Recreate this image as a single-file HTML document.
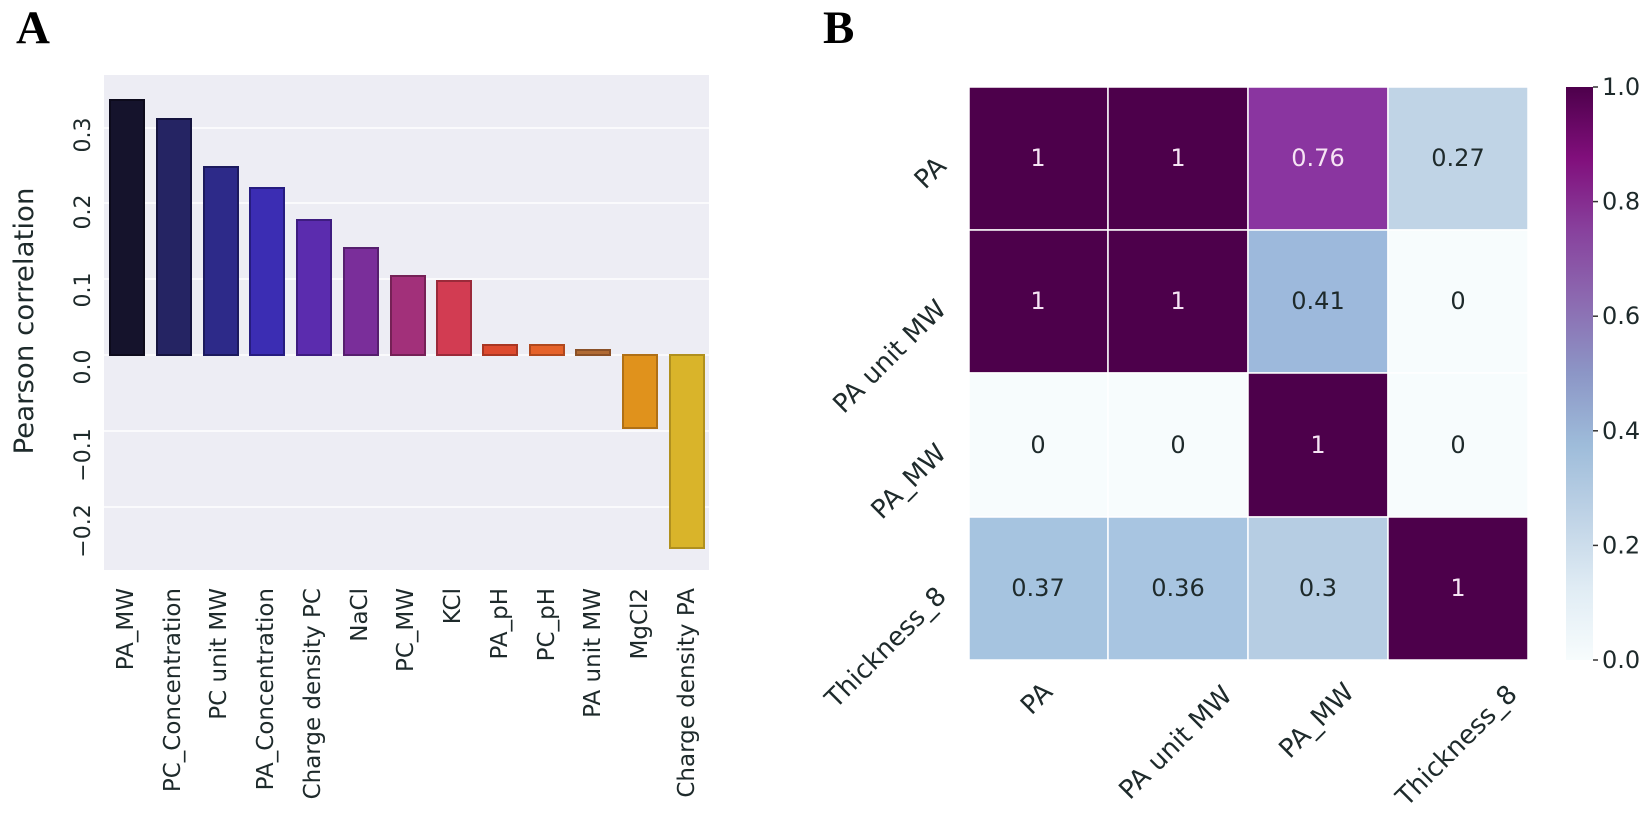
<!DOCTYPE html>
<html>
<head>
<meta charset="utf-8">
<style>
  html,body{margin:0;padding:0;background:#ffffff;}
  svg{display:block;}
  text{font-family:"DejaVu Sans","Liberation Sans",sans-serif;fill:#1e2a2b;}
  .lab{font-family:"Liberation Serif",serif;font-weight:bold;fill:#000;}
</style>
</head>
<body>
<svg width="1652" height="823" viewBox="0 0 1652 823" xmlns="http://www.w3.org/2000/svg">
  <defs>
    <linearGradient id="bupu" x1="0" y1="1" x2="0" y2="0">
      <stop offset="0" stop-color="#f7fcfd"/>
      <stop offset="0.125" stop-color="#e0ecf4"/>
      <stop offset="0.25" stop-color="#bfd3e6"/>
      <stop offset="0.375" stop-color="#9ebcda"/>
      <stop offset="0.5" stop-color="#8c96c6"/>
      <stop offset="0.625" stop-color="#8c6bb1"/>
      <stop offset="0.75" stop-color="#88419d"/>
      <stop offset="0.875" stop-color="#810f7c"/>
      <stop offset="1" stop-color="#4d004b"/>
    </linearGradient>
  </defs>

  <!-- Panel labels -->
  <text class="lab" x="16" y="43" font-size="47">A</text>
  <text class="lab" x="823" y="43" font-size="47">B</text>

  <!-- ============ Panel A: bar chart ============ -->
  <rect x="104" y="75" width="605" height="495" fill="#ededf4"/>
  <g stroke="#ffffff" stroke-width="1.6">
    <line x1="104" y1="128" x2="709" y2="128"/>
    <line x1="104" y1="203" x2="709" y2="203"/>
    <line x1="104" y1="279" x2="709" y2="279"/>
    <line x1="104" y1="355" x2="709" y2="355"/>
    <line x1="104" y1="431" x2="709" y2="431"/>
    <line x1="104" y1="507" x2="709" y2="507"/>
  </g>

  <g stroke-width="2">
    <rect x="110" y="100" width="34" height="255" fill="#15132c" stroke="#0d0b1c"/>
    <rect x="157" y="119" width="34" height="236" fill="#252463" stroke="#15143f"/>
    <rect x="204" y="167" width="34" height="188" fill="#2d2a89" stroke="#1c1a5e"/>
    <rect x="250" y="188" width="34" height="167" fill="#3b2db3" stroke="#261c80"/>
    <rect x="297" y="220" width="34" height="135" fill="#5b2cae" stroke="#3e1c80"/>
    <rect x="344" y="248" width="34" height="107" fill="#7a2e9a" stroke="#561f6e"/>
    <rect x="391" y="276" width="34" height="79" fill="#a2307a" stroke="#752156"/>
    <rect x="437" y="281" width="34" height="74" fill="#d23c52" stroke="#9a2a3a"/>
    <rect x="483" y="345" width="34" height="10" fill="#dd4a2e" stroke="#a93622"/>
    <rect x="530" y="345" width="34" height="10" fill="#e5622a" stroke="#b0481e"/>
    <rect x="576" y="350" width="34" height="5" fill="#b06a34" stroke="#8a5027"/>
    <rect x="623" y="355" width="34" height="73" fill="#e0921c" stroke="#b07015"/>
    <rect x="670" y="355" width="34" height="193" fill="#d9b42a" stroke="#b0901e"/>
  </g>

  <!-- y ticks -->
  <g font-size="22" text-anchor="middle">
    <text transform="translate(90,135) rotate(-90)">0.3</text>
    <text transform="translate(90,212) rotate(-90)">0.2</text>
    <text transform="translate(90,290) rotate(-90)">0.1</text>
    <text transform="translate(90,367) rotate(-90)">0.0</text>
    <text transform="translate(90,455) rotate(-90)">−0.1</text>
    <text transform="translate(90,531) rotate(-90)">−0.2</text>
  </g>
  <text font-size="27" text-anchor="middle" transform="translate(33,321) rotate(-90)" textLength="267" lengthAdjust="spacingAndGlyphs">Pearson correlation</text>

  <!-- x tick labels -->
  <g font-size="23" text-anchor="end">
    <text transform="translate(133,588) rotate(-90)">PA_MW</text>
    <text transform="translate(180,588) rotate(-90)">PC_Concentration</text>
    <text transform="translate(226,588) rotate(-90)">PC unit MW</text>
    <text transform="translate(273,588) rotate(-90)">PA_Concentration</text>
    <text transform="translate(320,588) rotate(-90)">Charge density PC</text>
    <text transform="translate(367,588) rotate(-90)">NaCl</text>
    <text transform="translate(413,588) rotate(-90)">PC_MW</text>
    <text transform="translate(460,588) rotate(-90)">KCl</text>
    <text transform="translate(507,588) rotate(-90)">PA_pH</text>
    <text transform="translate(554,588) rotate(-90)">PC_pH</text>
    <text transform="translate(600,588) rotate(-90)">PA unit MW</text>
    <text transform="translate(647,588) rotate(-90)">MgCl2</text>
    <text transform="translate(694,588) rotate(-90)">Charge density PA</text>
  </g>

  <!-- ============ Panel B: heatmap ============ -->
  <g stroke="#ffffff" stroke-width="1.5">
    <!-- row 1 -->
    <rect x="969" y="87" width="139" height="143" fill="#4d004b"/>
    <rect x="1108" y="87" width="140" height="143" fill="#4d004b"/>
    <rect x="1248" y="87" width="140" height="143" fill="#8a35a0"/>
    <rect x="1388" y="87" width="140" height="143" fill="#c0d4e6"/>
    <!-- row 2 -->
    <rect x="969" y="230" width="139" height="143" fill="#4d004b"/>
    <rect x="1108" y="230" width="140" height="143" fill="#4d004b"/>
    <rect x="1248" y="230" width="140" height="143" fill="#9db9dc"/>
    <rect x="1388" y="230" width="140" height="143" fill="#f7fcfd"/>
    <!-- row 3 -->
    <rect x="969" y="373" width="139" height="144" fill="#f7fcfd"/>
    <rect x="1108" y="373" width="140" height="144" fill="#f7fcfd"/>
    <rect x="1248" y="373" width="140" height="144" fill="#4d004b"/>
    <rect x="1388" y="373" width="140" height="144" fill="#f7fcfd"/>
    <!-- row 4 -->
    <rect x="969" y="517" width="139" height="143" fill="#a6c4e0"/>
    <rect x="1108" y="517" width="140" height="143" fill="#a8c5e1"/>
    <rect x="1248" y="517" width="140" height="143" fill="#b6cde3"/>
    <rect x="1388" y="517" width="140" height="143" fill="#4d004b"/>
  </g>

  <!-- annotations -->
  <g font-size="24" text-anchor="middle" dominant-baseline="central">
    <text x="1038" y="158" style="fill:#f6e4f4">1</text>
    <text x="1178" y="158" style="fill:#f6e4f4">1</text>
    <text x="1318" y="158" style="fill:#f6e4f4">0.76</text>
    <text x="1458" y="158">0.27</text>

    <text x="1038" y="301" style="fill:#f6e4f4">1</text>
    <text x="1178" y="301" style="fill:#f6e4f4">1</text>
    <text x="1318" y="301">0.41</text>
    <text x="1458" y="301">0</text>

    <text x="1038" y="445">0</text>
    <text x="1178" y="445">0</text>
    <text x="1318" y="445" style="fill:#f6e4f4">1</text>
    <text x="1458" y="445">0</text>

    <text x="1038" y="588">0.37</text>
    <text x="1178" y="588">0.36</text>
    <text x="1318" y="588">0.3</text>
    <text x="1458" y="588" style="fill:#f6e4f4">1</text>
  </g>

  <!-- row labels -->
  <g font-size="26" text-anchor="end" dominant-baseline="central">
    <text transform="translate(942,162) rotate(-45)">PA</text>
    <text transform="translate(942,305) rotate(-45)">PA unit MW</text>
    <text transform="translate(942,449) rotate(-45)">PA_MW</text>
    <text transform="translate(942,592) rotate(-45)">Thickness_8</text>
  </g>

  <!-- column labels -->
  <g font-size="26" text-anchor="middle" dominant-baseline="central">
    <text transform="translate(1037,699) rotate(-45)">PA</text>
    <text transform="translate(1176,743) rotate(-45)">PA unit MW</text>
    <text transform="translate(1317,721) rotate(-45)">PA_MW</text>
    <text transform="translate(1457,746) rotate(-45)">Thickness_8</text>
  </g>

  <!-- colorbar -->
  <rect x="1566" y="87" width="27" height="573" fill="url(#bupu)"/>
  <g stroke="#333" stroke-width="1.5">
    <line x1="1593" y1="87" x2="1598" y2="87"/>
    <line x1="1593" y1="201.6" x2="1598" y2="201.6"/>
    <line x1="1593" y1="316.2" x2="1598" y2="316.2"/>
    <line x1="1593" y1="430.8" x2="1598" y2="430.8"/>
    <line x1="1593" y1="545.4" x2="1598" y2="545.4"/>
    <line x1="1593" y1="660" x2="1598" y2="660"/>
  </g>
  <g font-size="24" dominant-baseline="central">
    <text x="1602" y="87">1.0</text>
    <text x="1602" y="201.6">0.8</text>
    <text x="1602" y="316.2">0.6</text>
    <text x="1602" y="430.8">0.4</text>
    <text x="1602" y="545.4">0.2</text>
    <text x="1602" y="660">0.0</text>
  </g>
</svg>
</body>
</html>
